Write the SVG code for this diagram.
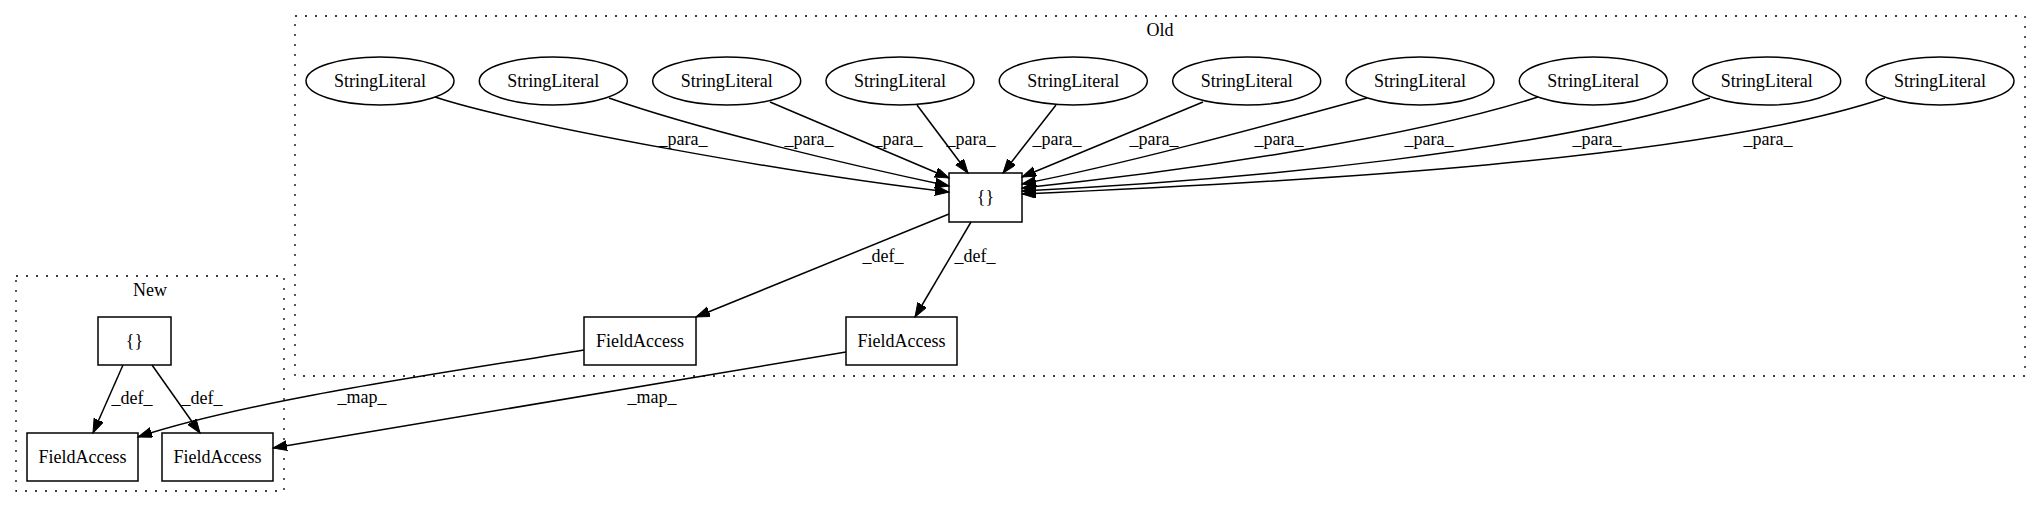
<svg xmlns="http://www.w3.org/2000/svg" width="2041" height="508" viewBox="0 0 2041 508">
<style>
text{font-family:"Liberation Serif","Times New Roman",serif;font-size:18px;fill:#000;text-anchor:middle}
.cl{fill:none;stroke:#000;stroke-width:1.3;stroke-dasharray:2,8}
.n{fill:none;stroke:#000;stroke-width:1.5}
.e{fill:none;stroke:#000;stroke-width:1.5;marker-end:url(#ah)}
</style>
<defs>
<marker id="ah" markerUnits="userSpaceOnUse" markerWidth="16" markerHeight="12" refX="14" refY="5" orient="auto">
<path d="M0,0 L14,5 L0,10 z" fill="#000" stroke="#000" stroke-width="1"/>
</marker>
</defs>
<rect width="2041" height="508" fill="#fff"/>
<g id="cluster_old">
<rect class="cl" x="295" y="16" width="1730" height="360"/>
<text x="1160" y="36">Old</text>
</g>
<g id="cluster_new">
<rect class="cl" x="16" y="276" width="268" height="215"/>
<text x="150" y="296">New</text>
</g>
<g id="edges">
<path class="e" d="M435,97 C520,125 800,175 949,192"/>
<path class="e" d="M609,98 C700,130 850,165 949,186"/>
<path class="e" d="M770,102 L949,178"/>
<path class="e" d="M917,105 L968,173"/>
<path class="e" d="M1056,105 L1003,173"/>
<path class="e" d="M1203,102 L1022,177"/>
<path class="e" d="M1367,98 C1250,130 1120,165 1022,184"/>
<path class="e" d="M1538,97 C1420,135 1200,170 1022,188"/>
<path class="e" d="M1710,98 C1550,150 1250,180 1022,191"/>
<path class="e" d="M1885,98 C1700,160 1300,182 1022,194"/>
<path class="e" d="M949,214 L696,317"/>
<path class="e" d="M971,222 L915,317"/>
<path class="e" d="M123,365 L93,433"/>
<path class="e" d="M152,365 L200,433"/>
<path class="e" d="M584,350 C450,372 250,400 138,437"/>
<path class="e" d="M846,352 L273,448"/>
<text x="683" y="145">_para_</text>
<text x="809" y="145">_para_</text>
<text x="898" y="145">_para_</text>
<text x="971" y="145">_para_</text>
<text x="1057" y="145">_para_</text>
<text x="1154" y="145">_para_</text>
<text x="1279" y="145">_para_</text>
<text x="1429" y="145">_para_</text>
<text x="1597" y="145">_para_</text>
<text x="1768" y="145">_para_</text>
<text x="883" y="262">_def_</text>
<text x="975" y="262">_def_</text>
<text x="132" y="404">_def_</text>
<text x="202" y="404">_def_</text>
<text x="362" y="403">_map_</text>
<text x="652" y="403">_map_</text>
</g>
<g id="sl1"><ellipse class="n" cx="380" cy="81" rx="74" ry="24"/><text x="380" y="87">StringLiteral</text></g>
<g id="sl2"><ellipse class="n" cx="553.3" cy="81" rx="74" ry="24"/><text x="553.3" y="87">StringLiteral</text></g>
<g id="sl3"><ellipse class="n" cx="726.7" cy="81" rx="74" ry="24"/><text x="726.7" y="87">StringLiteral</text></g>
<g id="sl4"><ellipse class="n" cx="900" cy="81" rx="74" ry="24"/><text x="900" y="87">StringLiteral</text></g>
<g id="sl5"><ellipse class="n" cx="1073.3" cy="81" rx="74" ry="24"/><text x="1073.3" y="87">StringLiteral</text></g>
<g id="sl6"><ellipse class="n" cx="1246.7" cy="81" rx="74" ry="24"/><text x="1246.7" y="87">StringLiteral</text></g>
<g id="sl7"><ellipse class="n" cx="1420" cy="81" rx="74" ry="24"/><text x="1420" y="87">StringLiteral</text></g>
<g id="sl8"><ellipse class="n" cx="1593.3" cy="81" rx="74" ry="24"/><text x="1593.3" y="87">StringLiteral</text></g>
<g id="sl9"><ellipse class="n" cx="1766.7" cy="81" rx="74" ry="24"/><text x="1766.7" y="87">StringLiteral</text></g>
<g id="sl10"><ellipse class="n" cx="1940" cy="81" rx="74" ry="24"/><text x="1940" y="87">StringLiteral</text></g>
<g id="old_braces"><rect class="n" x="949" y="173" width="73" height="49"/><text x="985.5" y="203">{}</text></g>
<g id="old_fa1"><rect class="n" x="584" y="317" width="112" height="48"/><text x="640" y="347">FieldAccess</text></g>
<g id="old_fa2"><rect class="n" x="846" y="317" width="111" height="48"/><text x="901.5" y="347">FieldAccess</text></g>
<g id="new_braces"><rect class="n" x="98" y="317" width="73" height="48"/><text x="134.5" y="347">{}</text></g>
<g id="new_fa1"><rect class="n" x="27" y="433" width="111" height="48"/><text x="82.5" y="463">FieldAccess</text></g>
<g id="new_fa2"><rect class="n" x="162" y="433" width="111" height="48"/><text x="217.5" y="463">FieldAccess</text></g>
</svg>
